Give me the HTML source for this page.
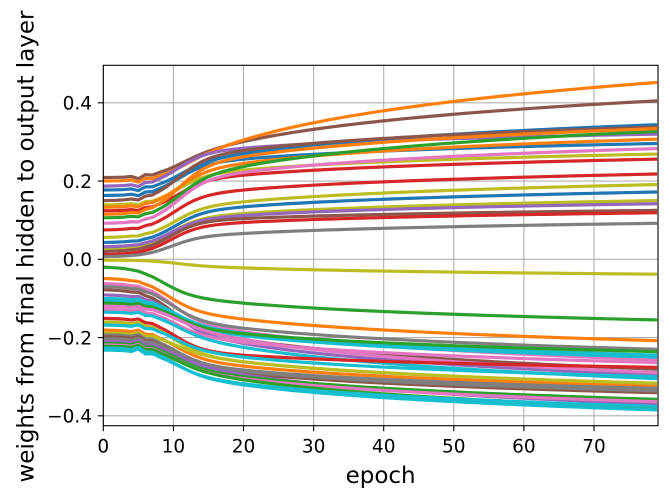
<!DOCTYPE html>
<html><head><meta charset="utf-8"><style>
html,body{margin:0;padding:0;background:#fff;}
svg{display:block;}
text{font-family:"DejaVu Sans","Liberation Sans",sans-serif;fill:#000;}
</style></head><body>
<svg id="s" width="670" height="500" viewBox="0 0 670 500" xmlns="http://www.w3.org/2000/svg">
<defs><clipPath id="cp"><rect x="103.3" y="65.3" width="554.7" height="360.4"/></clipPath></defs>
<rect width="670" height="500" fill="#fff"/>
<g stroke="#b0b0b0" stroke-width="1.1">
<line x1="103.3" y1="65.3" x2="103.3" y2="425.7"/>
<line x1="173.4" y1="65.3" x2="173.4" y2="425.7"/>
<line x1="243.5" y1="65.3" x2="243.5" y2="425.7"/>
<line x1="313.6" y1="65.3" x2="313.6" y2="425.7"/>
<line x1="383.7" y1="65.3" x2="383.7" y2="425.7"/>
<line x1="453.8" y1="65.3" x2="453.8" y2="425.7"/>
<line x1="523.9" y1="65.3" x2="523.9" y2="425.7"/>
<line x1="594" y1="65.3" x2="594" y2="425.7"/>
<line x1="103.3" y1="102.8" x2="658" y2="102.8"/>
<line x1="103.3" y1="181.05" x2="658" y2="181.05"/>
<line x1="103.3" y1="259.3" x2="658" y2="259.3"/>
<line x1="103.3" y1="337.55" x2="658" y2="337.55"/>
<line x1="103.3" y1="415.8" x2="658" y2="415.8"/>
</g>
<g id="lines" clip-path="url(#cp)" fill="none" stroke-width="3.2" stroke-linejoin="round"></g>
<rect x="103.3" y="65.3" width="554.7" height="360.4" fill="none" stroke="#000" stroke-width="1.1"/>
<g stroke="#000" stroke-width="1.1">
<line x1="97.8" y1="102.8" x2="103.3" y2="102.8"/>
<line x1="97.8" y1="181.05" x2="103.3" y2="181.05"/>
<line x1="97.8" y1="259.3" x2="103.3" y2="259.3"/>
<line x1="97.8" y1="337.55" x2="103.3" y2="337.55"/>
<line x1="97.8" y1="415.8" x2="103.3" y2="415.8"/>
<line x1="103.3" y1="425.7" x2="103.3" y2="431.2"/>
<line x1="173.4" y1="425.7" x2="173.4" y2="431.2"/>
<line x1="243.5" y1="425.7" x2="243.5" y2="431.2"/>
<line x1="313.6" y1="425.7" x2="313.6" y2="431.2"/>
<line x1="383.7" y1="425.7" x2="383.7" y2="431.2"/>
<line x1="453.8" y1="425.7" x2="453.8" y2="431.2"/>
<line x1="523.9" y1="425.7" x2="523.9" y2="431.2"/>
<line x1="594" y1="425.7" x2="594" y2="431.2"/>
</g>
<g font-size="18.5" text-anchor="end">
<text x="92" y="109.6">0.4</text>
<text x="92" y="187.9">0.2</text>
<text x="92" y="266.1">0.0</text>
<text x="92" y="344.4">−0.2</text>
<text x="92" y="422.6">−0.4</text>
</g>
<g font-size="18.5" text-anchor="middle">
<text x="103.3" y="452.7">0</text>
<text x="173.4" y="452.7">10</text>
<text x="243.5" y="452.7">20</text>
<text x="313.6" y="452.7">30</text>
<text x="383.7" y="452.7">40</text>
<text x="453.8" y="452.7">50</text>
<text x="523.9" y="452.7">60</text>
<text x="594" y="452.7">70</text>
</g>
<text x="380.6" y="483" font-size="23" text-anchor="middle">epoch</text>
<text transform="translate(33.5,246.5) rotate(-90)" font-size="23" text-anchor="middle">weights from final hidden to output layer</text>
</svg>
<script>
(function(){
var C={blue:'#1f77b4',orange:'#ff7f0e',green:'#2ca02c',red:'#d62728',purple:'#9467bd',brown:'#8c564b',pink:'#e377c2',gray:'#7f7f7f',olive:'#bcbd22',cyan:'#17becf'};
var D=[
[0.209,0.301,0.405,'brown',10.5],
[0.200,0.305,0.452,'orange',10.5],
[0.187,0.284,0.320,'purple',10.5],
[0.177,0.270,0.344,'blue',10.5],
[0.163,0.256,0.296,'blue',10.5],
[0.150,0.278,0.338,'brown',10.5],
[0.139,0.228,0.269,'olive',10.5],
[0.133,0.245,0.307,'orange',10.5],
[0.124,0.215,0.256,'red',10.5],
[0.106,0.237,0.327,'green',10.5],
[0.092,0.222,0.283,'pink',10.5],
[0.115,0.262,0.334,'orange',10.5],
[0.075,0.177,0.218,'red',10],
[0.056,0.147,0.191,'olive',10],
[0.043,0.134,0.172,'blue',10],
[0.027,0.117,0.150,'olive',9.5],
[0.032,0.112,0.142,'purple',9.5],
[0.020,0.104,0.125,'brown',9.5],
[0.012,0.094,0.119,'red',9.5],
[0.007,0.066,0.092,'gray',9.5],
[-0.002,-0.022,-0.038,'olive',10],
[-0.020,-0.112,-0.155,'green',8.3],
[-0.049,-0.153,-0.208,'orange',9],
[-0.062,-0.185,-0.257,'pink',9.5],
[-0.070,-0.176,-0.230,'gray',9.5],
[-0.078,-0.205,-0.281,'brown',9.5],
[-0.091,-0.215,-0.296,'purple',10],
[-0.100,-0.189,-0.245,'cyan',10],
[-0.106,-0.195,-0.250,'cyan',10],
[-0.112,-0.190,-0.236,'green',10],
[-0.120,-0.205,-0.290,'pink',10],
[-0.128,-0.212,-0.264,'pink',10],
[-0.135,-0.225,-0.305,'cyan',10],
[-0.151,-0.245,-0.276,'red',10],
[-0.160,-0.262,-0.317,'olive',10],
[-0.168,-0.250,-0.300,'cyan',10],
[-0.181,-0.273,-0.324,'orange',10],
[-0.189,-0.262,-0.317,'olive',10],
[-0.193,-0.283,-0.330,'gray',10],
[-0.198,-0.291,-0.341,'brown',10],
[-0.203,-0.286,-0.336,'gray',10],
[-0.210,-0.295,-0.370,'purple',10],
[-0.215,-0.300,-0.358,'green',10],
[-0.219,-0.305,-0.364,'pink',10],
[-0.222,-0.308,-0.379,'green',10],
[-0.227,-0.321,-0.385,'cyan',10],
[-0.232,-0.318,-0.376,'cyan',10]
];
var W=[0,0,0,0,0.004,-0.03,0.01,-0.01,0,0];
function mk(v0,vm,ve,c){
  var L=function(x){return 1/(1+Math.exp(-(x-c)/2.0));};
  var L0=L(0);
  var S=function(t){return (L(t)-L0)/(1-L0);};
  var sp=function(t){return 2*Math.log(1+Math.exp((t-c)/2));};
  var Hr=function(t){return Math.log(1+sp(t)/10);};
  var H79=Hr(79);
  var H=function(t){return Hr(t)/H79;};
  var S20=S(20),H20=H(20),S79=S(79);
  // v(t)=v0+a*S+b*H ; v(79)=ve ; v(20)=vm
  // a*S79+b=ve-v0 ; a*S20+b*H20=vm-v0
  var det=S79*H20-S20;
  var a=((ve-v0)*H20-(vm-v0))/det;
  var b=(ve-v0)-a*S79;
  return function(t){
    var v=v0+a*S(t)+b*H(t);
    if(t<10) v+=W[t]*v0;
    return v;
  };
}
var g=document.getElementById('lines');
var ns='http://www.w3.org/2000/svg';
for(var i=0;i<D.length;i++){
  var d=D[i], f=mk(d[0],d[1],d[2],d[4]), p='';
  for(var t=0;t<=79;t++){
    var x=103.3+t*7.01, y=259.3-f(t)*391.25;
    p+=(t?'L':'M')+x.toFixed(2)+' '+y.toFixed(2);
  }
  var el=document.createElementNS(ns,'path');
  el.setAttribute('d',p);
  el.setAttribute('stroke',C[d[3]]);
  g.appendChild(el);
}
})();
</script>
</body></html>
